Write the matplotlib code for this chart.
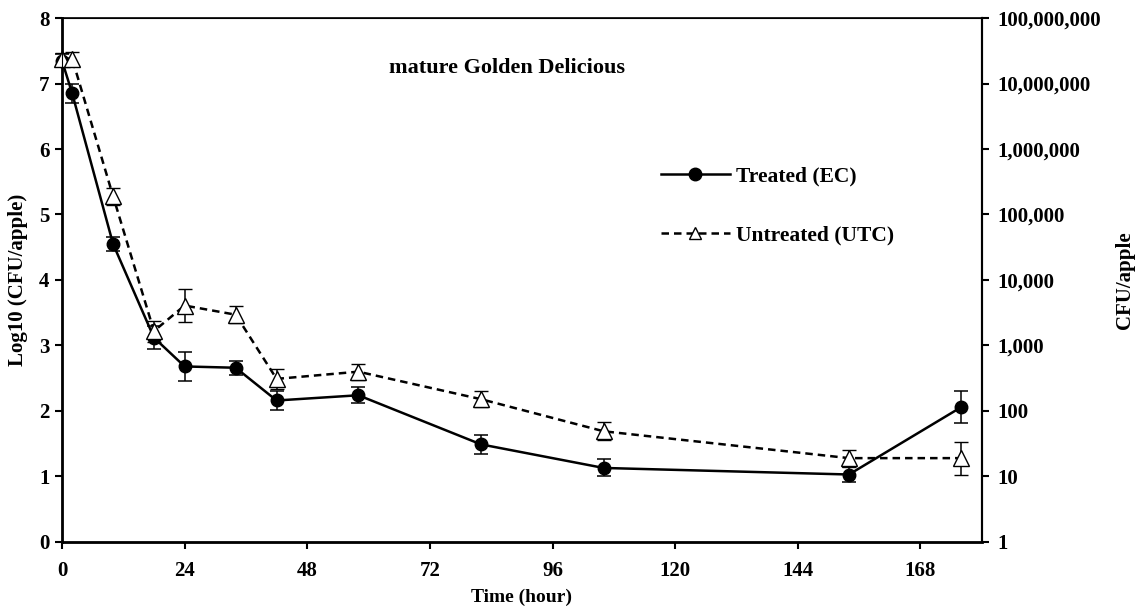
import numpy as np
import matplotlib
matplotlib.use("Agg")
import matplotlib.pyplot as plt
from matplotlib.lines import Line2D
from matplotlib.ticker import FixedLocator, FuncFormatter, NullLocator

# sampling times (hours)
hours = [0, 2, 10, 18, 24, 34, 42, 58, 82, 106, 154, 176]

# Treated (EC), log10 CFU/apple
treated = [7.35, 6.85, 4.55, 3.12, 2.68, 2.66, 2.16, 2.24, 1.49, 1.13, 1.03, 2.06]
treated_err = [0.10, 0.14, 0.11, 0.17, 0.22, 0.11, 0.14, 0.12, 0.15, 0.13, 0.12, 0.25]

# Untreated (UTC), log10 CFU/apple
untreated = [7.38, 7.38, 5.28, 3.22, 3.61, 3.47, 2.49, 2.60, 2.18, 1.69, 1.28, 1.28]
untreated_err = [0.08, 0.10, 0.13, 0.16, 0.25, 0.13, 0.15, 0.12, 0.12, 0.14, 0.13, 0.25]

x_ticks = [0, 24, 48, 72, 96, 120, 144, 168]
right_ticks = [1, 10, 100, 1000, 10000, 100000, 1000000, 10000000, 100000000]

plt.rcParams["font.family"] = ["Liberation Serif", "DejaVu Serif"]
plt.rcParams["font.weight"] = "bold"
plt.rcParams["font.size"] = 15

fig = plt.figure(figsize=(11.39, 6.11), dpi=100)
ax = fig.add_axes([0.0544, 0.113, 0.8076, 0.8575])

solid_style = dict(color="black", lw=1.8, marker="o", markersize=9,
                   markerfacecolor="black", markeredgecolor="black")
dash_style = dict(color="black", lw=1.8, ls=(0, (3.0, 2.0)), marker="^",
                  markersize=11, markerfacecolor="white",
                  markeredgecolor="black", markeredgewidth=1.0)

for ys, errs, style, z in [(treated, treated_err, solid_style, 3),
                           (untreated, untreated_err, dash_style, 4)]:
    cont = ax.errorbar(hours, ys, yerr=errs, ecolor="black", elinewidth=1.1,
                       capsize=5, capthick=1.1, zorder=z, **style)
    for art in cont.get_children():
        art.set_clip_on(False)

ax.set_xlim(0, 180)
ax.set_ylim(0, 8)
ax.xaxis.set_major_locator(FixedLocator(x_ticks))
ax.set_yticks(range(0, 9))
ax.tick_params(axis="both", direction="out", length=5, width=1.5, labelsize=15, pad=4)
ax.tick_params(axis="x", pad=9)
for side in ["left", "bottom"]:
    ax.spines[side].set_linewidth(2.0)
ax.spines["top"].set_linewidth(1.2)
ax.spines["right"].set_linewidth(1.5)

ax.set_xlabel("Time (hour)", fontsize=14, fontweight="bold", labelpad=5)
ax.set_ylabel("Log10 (CFU/apple)", fontsize=15, fontweight="bold", labelpad=8)

ax.text(0.484, 0.905, "mature Golden Delicious", transform=ax.transAxes,
        ha="center", va="center", fontsize=16, fontweight="bold")

handles = [Line2D([], [], **solid_style), Line2D([], [], **dash_style)]
handles[1].set_markersize(8)
ax.legend(handles, ["Treated (EC)", "Untreated (UTC)"], loc="upper left",
          bbox_to_anchor=(0.651, 0.717), frameon=False, handlelength=3.2,
          labelspacing=1.8, fontsize=15.5, borderaxespad=0, borderpad=0,
          handletextpad=0.3)

ax2 = ax.twinx()
ax2.set_yscale("log")
ax2.set_ylim(1, 1e8)
ax2.yaxis.set_major_locator(FixedLocator(right_ticks))
ax2.yaxis.set_minor_locator(NullLocator())
ax2.yaxis.set_major_formatter(FuncFormatter(lambda v, p: f"{v:,.0f}"))
ax2.tick_params(axis="y", direction="out", length=5, width=1.5, labelsize=15, pad=6)
ax2.spines["right"].set_linewidth(1.5)
ax2.set_ylabel("CFU/apple", fontsize=15, fontweight="bold", labelpad=10)

fig.savefig("out.png", dpi=100)
